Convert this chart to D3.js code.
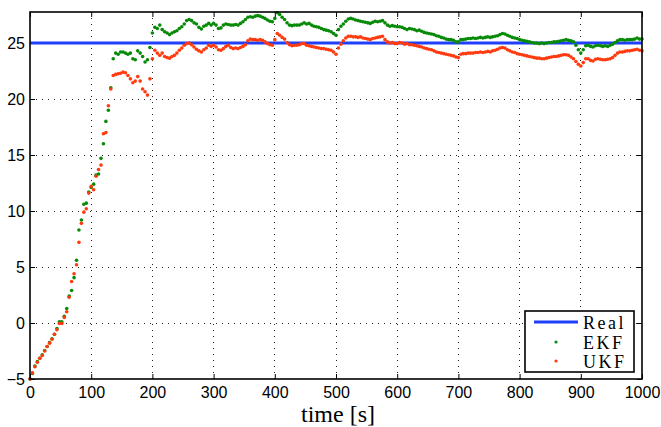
<!DOCTYPE html>
<html><head><meta charset="utf-8">
<script src="https://cdn.jsdelivr.net/npm/d3@7"></script>
<style>
html,body{margin:0;padding:0;background:#fff;}
svg{display:block;}
</style></head>
<body>
<svg id="chart" width="661" height="427"></svg>
<script>
// ---- data ----
const xTicks = [0,100,200,300,400,500,600,700,800,900,1000];
const yTicks = [-5,0,5,10,15,20,25];
const xLabel = "time [s]";
const seriesNames = ["Real","EKF","UKF"];
const realTimes = [0, 1000];
const realValues = [25, 25];
// sample times (every 4 s)
const sampleTimes = d3.range(0, 1001, 4);
const ekfValues = [
-5.0,-4.5,-3.85,-3.45,-3.15,-2.85,-2.45,-2.1,-1.75,-1.4,
-1.0,-0.5,0.1,0.1,0.6,1.3,2.4,2.9,4.05,5.6,
8.3,9.2,10.6,10.7,11.7,12.1,12.4,13.2,13.3,14.7,
16.0,18.0,19.0,21.0,23.6,24.1,24.0,24.2,24.2,24.1,
24.0,24.1,23.6,23.5,24.3,24.1,23.8,23.3,23.5,24.6,
25.9,26.4,26.3,26.6,26.2,26.0,25.9,25.75,25.9,26.0,
26.1,26.3,26.45,26.7,27.0,27.1,27.0,26.8,26.7,26.4,
26.25,26.5,26.6,26.75,26.6,26.75,26.6,26.3,26.35,26.6,
26.7,26.65,26.6,26.6,26.65,26.6,26.75,26.9,27.1,27.3,
27.35,27.3,27.4,27.45,27.4,27.3,27.2,27.05,26.95,26.9,
27.2,27.7,27.55,27.3,27.1,26.8,26.6,26.55,26.6,26.6,
26.6,26.7,26.8,26.7,26.75,26.6,26.5,26.45,26.4,26.3,
26.2,26.15,26.1,26.0,25.85,25.7,26.2,26.5,26.7,26.95,
27.15,27.2,27.15,27.05,27.0,26.95,26.9,26.85,26.8,26.75,
26.85,26.95,26.9,26.95,27.0,26.8,26.6,26.5,26.55,26.5,
26.45,26.45,26.4,26.3,26.2,26.3,26.25,26.2,26.1,26.15,
26.05,25.95,25.9,25.85,25.8,25.75,25.65,25.6,25.5,25.45,
25.35,25.3,25.3,25.25,25.1,25.1,25.3,25.3,25.35,25.4,
25.4,25.45,25.4,25.45,25.5,25.45,25.5,25.55,25.5,25.55,
25.6,25.65,25.75,25.85,25.8,25.7,25.6,25.5,25.45,25.4,
25.3,25.25,25.2,25.15,25.1,25.05,25.0,25.0,24.95,25.0,
24.95,25.0,25.05,25.05,25.1,25.1,25.15,25.2,25.25,25.3,
25.25,25.2,25.1,24.8,24.4,24.1,24.4,24.75,24.8,24.7,
24.65,24.75,24.8,24.75,24.7,24.75,24.7,24.8,24.9,25.05,
25.2,25.3,25.3,25.25,25.3,25.3,25.3,25.35,25.45,25.35,
25.35
];
const ukfValues = [
-5.0,-4.45,-3.9,-3.5,-3.15,-2.9,-2.5,-2.1,-1.8,-1.45,
-1.0,-0.6,-0.05,-0.05,0.5,1.0,2.3,3.7,4.4,5.2,
7.2,8.9,9.9,10.2,11.6,12.2,11.9,13.1,13.7,14.1,
16.9,17.0,19.4,20.9,22.1,22.2,22.25,22.3,22.4,22.35,
22.1,21.8,21.45,21.6,22.0,21.6,20.9,20.65,20.35,21.8,
23.6,24.35,24.1,23.9,24.1,23.8,23.7,23.65,23.8,23.9,
24.1,24.35,24.55,24.8,24.95,25.0,24.85,24.65,24.45,24.3,
24.2,24.4,24.55,24.8,24.7,24.8,24.65,24.4,24.35,24.5,
24.7,24.8,24.6,24.5,24.55,24.5,24.6,24.7,24.85,25.2,
25.35,25.3,25.3,25.25,25.3,25.25,25.1,24.95,24.85,24.8,
25.3,25.85,25.7,25.5,25.35,25.05,24.85,24.75,24.8,24.8,
24.85,24.95,24.95,24.8,24.75,24.7,24.65,24.6,24.55,24.5,
24.5,24.45,24.4,24.35,24.2,24.0,24.55,24.9,25.2,25.45,
25.6,25.6,25.55,25.55,25.5,25.55,25.45,25.4,25.35,25.3,
25.4,25.45,25.5,25.55,25.6,25.3,25.1,25.0,25.05,24.95,
24.95,25.05,25.0,24.9,24.95,24.85,24.85,24.8,24.75,24.7,
24.65,24.55,24.5,24.45,24.4,24.3,24.2,24.15,24.1,24.05,
24.0,23.95,23.9,23.85,23.75,23.7,24.0,24.05,24.05,24.1,
24.1,24.1,24.15,24.15,24.2,24.15,24.2,24.25,24.2,24.3,
24.35,24.45,24.55,24.6,24.55,24.4,24.3,24.2,24.15,24.05,
24.0,23.95,23.9,23.85,23.8,23.75,23.7,23.65,23.65,23.6,
23.6,23.65,23.7,23.75,23.8,23.8,23.85,23.9,23.95,23.95,
23.9,23.75,23.6,23.35,23.1,22.95,23.25,23.6,23.6,23.45,
23.4,23.55,23.6,23.55,23.5,23.5,23.55,23.6,23.7,23.9,
24.1,24.2,24.2,24.25,24.3,24.3,24.35,24.4,24.45,24.35,
24.3
];
const colors = {Real:"#1f3ffa", EKF:"#078a07", UKF:"#ff3a0f"};

// ---- layout ----
const svg = d3.select("#chart");
const L = 30, R = 642, T = 12, B = 379;
const x = d3.scaleLinear().domain([0, 1000]).range([L, R]);
const y = d3.scaleLinear().domain([-5, 27.77]).range([B, T]);

// grid
const grid = svg.append("g");
grid.selectAll("line.gx").data(xTicks.filter(d => d > 0 && d < 1000)).join("line")
  .attr("x1", d => x(d)).attr("x2", d => x(d)).attr("y1", T).attr("y2", B)
  .attr("stroke", "#222").attr("stroke-width", 1).attr("stroke-dasharray", "1,5")
  .attr("shape-rendering", "crispEdges");
grid.selectAll("line.gy").data(yTicks.filter(d => d > -5)).join("line")
  .attr("x1", L).attr("x2", R).attr("y1", d => Math.round(y(d)) + 0.5).attr("y2", d => Math.round(y(d)) + 0.5)
  .attr("stroke", "#222").attr("stroke-width", 1).attr("stroke-dasharray", "1,5");

// axes
const fontTick = "'Liberation Sans', Arial, Helvetica, sans-serif";
const ax = svg.append("g").attr("transform", `translate(0,${B})`)
  .call(d3.axisBottom(x).tickValues(xTicks).tickSize(-5).tickPadding(8).tickFormat(d3.format("d")));
const axT = svg.append("g").attr("transform", `translate(0,${T})`)
  .call(d3.axisTop(x).tickValues(xTicks).tickSize(-5).tickFormat(""));
const ay = svg.append("g").attr("transform", `translate(${L},0)`)
  .call(d3.axisLeft(y).tickValues(yTicks).tickSize(-5).tickPadding(5).tickFormat(d => d < 0 ? "\u2212" + Math.abs(d) : d));
const ayR = svg.append("g").attr("transform", `translate(${R},0)`)
  .call(d3.axisRight(y).tickValues(yTicks).tickSize(-5).tickFormat(""));
[ax, axT, ay, ayR].forEach(g => {
  g.select(".domain").remove();
  g.selectAll(".tick line").attr("stroke", "#000").attr("stroke-width", 1);
  g.selectAll("text").attr("font-family", fontTick).attr("font-size", 16).attr("fill", "#000");
});

// data
const line = d3.line().x((d, i) => x(realTimes[i])).y(d => y(d));
svg.append("path").datum(realValues).attr("d", line)
  .attr("fill", "none").attr("stroke", colors.Real).attr("stroke-width", 3);

svg.append("g").selectAll("circle").data(ekfValues).join("circle")
  .attr("cx", (d, i) => x(sampleTimes[i])).attr("cy", d => y(d)).attr("r", 1.8)
  .attr("fill", colors.EKF);
svg.append("g").selectAll("circle").data(ukfValues).join("circle")
  .attr("cx", (d, i) => x(sampleTimes[i])).attr("cy", d => y(d)).attr("r", 1.8)
  .attr("fill", colors.UKF);

// box
svg.append("rect").attr("x", L).attr("y", T).attr("width", R - L).attr("height", B - T)
  .attr("fill", "none").attr("stroke", "#000").attr("stroke-width", 1.6);

// x label
svg.append("text").attr("x", 338).attr("y", 422).attr("text-anchor", "middle")
  .attr("font-family", "'Liberation Serif', 'Times New Roman', serif").attr("font-size", 24)
  .text(xLabel);

// legend
const lg = svg.append("g");
lg.append("rect").attr("x", 525).attr("y", 311).attr("width", 109).attr("height", 61)
  .attr("fill", "#fff").attr("stroke", "#000").attr("stroke-width", 1.6);
const rowsY = [322, 342, 361];
seriesNames.forEach((name, i) => {
  if (name === "Real") {
    lg.append("line").attr("x1", 534).attr("x2", 578).attr("y1", rowsY[i]).attr("y2", rowsY[i])
      .attr("stroke", colors.Real).attr("stroke-width", 3);
  } else {
    lg.append("circle").attr("cx", 556).attr("cy", rowsY[i]).attr("r", 1.6).attr("fill", colors[name]);
  }
  lg.append("text").attr("x", 583).attr("y", rowsY[i] + 6.5)
    .attr("font-family", "'Liberation Serif', 'Times New Roman', serif").attr("font-size", 18)
    .attr("letter-spacing", "2.5px").text(name);
});
</script>
</body></html>
